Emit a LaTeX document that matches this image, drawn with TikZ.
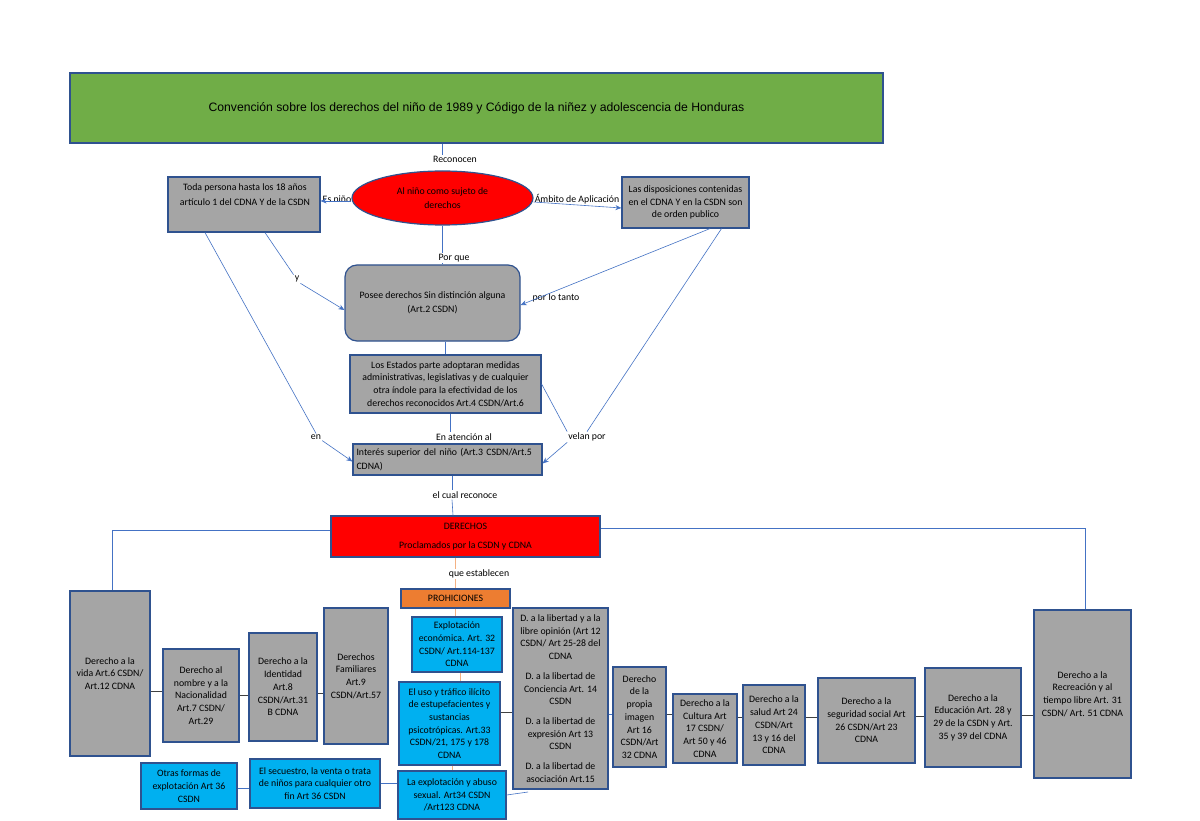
\documentclass[tikz,border=0pt]{standalone}
\usepackage{fontspec}
\setmainfont{Carlito}
\newfontfamily\arialf{Liberation Sans}
\usetikzlibrary{arrows.meta,shapes.geometric}
\definecolor{bordc}{HTML}{2F528F}
\definecolor{grayc}{HTML}{A5A5A5}
\definecolor{linec}{HTML}{4472C4}
\definecolor{darkc}{HTML}{404040}
\definecolor{orlc}{HTML}{F4B183}
\definecolor{greenc}{HTML}{70AD47}
\definecolor{cyanc}{HTML}{00B0F0}
\definecolor{orangec}{HTML}{ED7D31}
\definecolor{redc}{HTML}{FF0000}
\begin{document}
\begin{tikzpicture}[x=1pt,y=-1pt,
  box/.style={draw=bordc, line width=1.2pt, fill=grayc, inner sep=2pt, align=center, font=\fontsize{9.8}{12.7}\selectfont, text=black},
  bluebox/.style={box, fill=cyanc},
  lab/.style={font=\fontsize{9.8}{11}\selectfont, inner sep=1pt, align=center},
  conn/.style={draw=linec, line width=0.6pt},
  arr/.style={conn, -{Stealth[length=6pt,width=5pt]}},
  dk/.style={draw=darkc, line width=0.8pt},
  orline/.style={draw=orlc, line width=1pt}]
\path[fill=white,use as bounding box] (0,0) rectangle (1200,821);

% ---------- top ----------
\node[box, fill=greenc, minimum width=813pt, minimum height=70pt, font=\arialf\fontsize{12.2}{14}\selectfont] (title) at (476.5,108) {Convención sobre los derechos del niño de 1989 y Código de la niñez y adolescencia de Honduras};

\node[lab] (rec) at (455,159) {Reconocen};
\node[draw=bordc, line width=1.2pt, fill=redc, ellipse, minimum width=181pt, minimum height=54pt, inner sep=0pt, align=center, font=\fontsize{9.8}{14}\selectfont] (nino) at (442.5,198) {Al niño como sujeto de\\derechos};
\node[lab] (esn) at (337,199) {Es niño};
\node[lab] (amb) at (577,199) {Ámbito de Aplicación};

\node[box, minimum width=152pt, minimum height=55pt] (toda) at (244,204.5) {};
\node[lab, font=\fontsize{9.8}{15}\selectfont] (todat) at (245,195) {Toda persona hasta los 18 años\\artículo 1 del CDNA Y de la CSDN};

\node[box, minimum width=127pt, minimum height=51pt] (disp) at (685.5,202.5) {Las disposiciones contenidas\\en el CDNA Y en la CSDN son\\de orden publico};

\node[lab] (porque) at (454,258) {Por que};
\node[box, rounded corners=12pt, minimum width=175pt, minimum height=76pt, font=\fontsize{9.8}{14}\selectfont] (posee) at (432.5,303) {Posee derechos Sin distinción alguna\\(Art.2 CSDN)};
\node[lab] (ylab) at (297,279) {y};
\node[lab] (plt) at (556,298) {por lo tanto};

\node[box, minimum width=191pt, minimum height=58pt] (estados) at (445.5,384) {Los Estados parte adoptaran medidas\\administrativas, legislativas y de cualquier\\otra índole para la efectividad de los\\derechos reconocidos Art.4 CSDN/Art.6};

\node[lab] (en) at (316,437) {en};
\node[lab] (aten) at (464,437) {En atención al};
\node[lab] (velan) at (587,437) {velan por};

\node[box, minimum width=189pt, minimum height=31pt, text width=182pt, align=left, font=\fontsize{9.8}{14}\selectfont] (interes) at (447.5,459.5) {Interés superior del niño (Art.3 CSDN/Art.5\\CDNA)};

\node[lab] (cual) at (465,495) {el cual reconoce};

\node[box, fill=redc, minimum width=269pt, minimum height=41pt] (derechos) at (465.5,536.5) {DERECHOS\\[6pt]Proclamados por la CSDN y CDNA};

\node[lab] (que) at (479,574) {que establecen};
\node[box, fill=orangec, minimum width=109pt, minimum height=19pt, inner sep=1pt] (proh) at (455.5,598.5) {PROHICIONES};

% ---------- prohibiciones ----------
\node[bluebox, minimum width=90pt, minimum height=55pt] (expl) at (457,644.5) {Explotación\\económica. Art. 32\\CSDN/ Art.114-137\\CDNA};
\node[bluebox, minimum width=101pt, minimum height=83pt] (uso) at (449.5,723.5) {El uso y tráfico ilícito\\de estupefacientes y\\sustancias\\psicotrópicas. Art.33\\CSDN/21, 175 y 178\\CDNA};
\node[bluebox, minimum width=108pt, minimum height=48pt] (laexp) at (452,795) {La explotación y abuso\\sexual. Art34 CSDN\\/Art123 CDNA};
\node[bluebox, minimum width=130pt, minimum height=49pt] (secu) at (315,783.5) {El secuestro, la venta o trata\\de niños para cualquier otro\\fin Art 36 CSDN};
\node[bluebox, minimum width=96pt, minimum height=46pt] (otras) at (189,786) {Otras formas de\\explotación Art 36\\CSDN};

% ---------- derechos ----------
\node[box, minimum width=80pt, minimum height=165pt] (vida) at (110,673.5) {Derecho a la\\vida Art.6 CSDN/\\Art.12 CDNA};
\node[box, minimum width=76pt, minimum height=93pt] (nombre) at (201,695.5) {Derecho al\\nombre y a la\\Nacionalidad\\Art.7 CSDN/\\Art.29};
\node[box, minimum width=68pt, minimum height=108pt] (ident) at (283,687) {Derecho a la\\Identidad\\Art.8\\CSDN/Art.31\\B CDNA};
\node[box, minimum width=64pt, minimum height=136pt] (fam) at (356,676) {Derechos\\Familiares\\Art.9\\CSDN/Art.57};
\node[box, minimum width=95pt, minimum height=181pt] (lib) at (560.5,698.5) {D. a la libertad y a la\\libre opinión (Art 12\\CSDN/ Art 25-28 del\\CDNA\\[7pt]D. a la libertad de\\Conciencia Art. 14\\CSDN\\[7pt]D. a la libertad de\\expresión Art 13\\CSDN\\[7pt]D. a la libertad de\\asociación Art.15};
\node[box, minimum width=53pt, minimum height=100pt] (imagen) at (639.5,717) {Derecho\\de la\\propia\\imagen\\Art 16\\CSDN/Art\\32 CDNA};
\node[box, minimum width=64pt, minimum height=69pt] (cultura) at (705,728.5) {Derecho a la\\Cultura Art\\17 CSDN/\\Art 50 y 46\\CDNA};
\node[box, minimum width=62pt, minimum height=80pt] (salud) at (774,725) {Derecho a la\\salud Art 24\\CSDN/Art\\13 y 16 del\\CDNA};
\node[box, minimum width=97pt, minimum height=85pt] (segur) at (866.5,720.5) {Derecho a la\\seguridad social Art\\26 CSDN/Art 23\\CDNA};
\node[box, minimum width=96pt, minimum height=99pt] (educ) at (973,717.5) {Derecho a la\\Educación Art. 28 y\\29 de la CSDN y Art.\\35 y 39 del CDNA};
\node[box, minimum width=97pt, minimum height=168pt] (recre) at (1082.5,694) {Derecho a la\\Recreación y al\\tiempo libre Art. 31\\CSDN/ Art. 51 CDNA};

\coordinate (libend) at (528,792);

% ---------- helper points on box edges ----------
\path ([yshift=-17.5pt]vida.east) coordinate (p1)
      ([yshift=-6pt]ident.east) coordinate (p2)
      ([yshift=11.5pt]uso.east) coordinate (p3)
      ([yshift=-15.5pt]lib.east) coordinate (p4)
      ([yshift=3pt]imagen.east) coordinate (p5)
      ([yshift=11.5pt]cultura.east) coordinate (p6)
      ([yshift=8pt]salud.east) coordinate (p7)
      ([yshift=4.5pt]segur.east) coordinate (p8)
      ([yshift=2.5pt]educ.east) coordinate (p9)
      ([yshift=-2pt]otras.east) coordinate (p10)
      ([xshift=4.5pt]estados.south) coordinate (p11)
      ([xshift=4.5pt]interes.south) coordinate (p12)
      ([yshift=-3pt]nino.west) coordinate (p13);

% ---------- connectors (top) ----------
\draw[conn] (title.south -| nino.north) -- (rec.north -| nino.north);
\draw[arr] (p13) -- (toda.east |- p13);
\draw[arr] ([yshift=-4pt]nino.east) -- ([yshift=-5.5pt]disp.west);
\draw[conn] (nino.south) -- (porque.north -| nino.south);
\draw[conn] (porque.south -| nino.south) -- (posee.north -| nino.south);
\draw[conn] ([xshift=21pt]toda.south) -- (ylab.north west);
\draw[arr] (ylab.south east) -- ([yshift=-7pt]posee.west);
\draw[arr] ([xshift=24.5pt]disp.south) -- ([yshift=-2pt]posee.east);
\draw[conn] ([xshift=-39pt]toda.south) -- (en.north);
\draw[arr] (en.south east) -- ([yshift=-2pt]interes.west);
\draw[conn] ([xshift=36pt]disp.south) -- (velan.north);
\draw[conn] (estados.east) -- (velan.north west);
\draw[arr] (velan.south west) -- ([yshift=-4pt]interes.east);
\draw[conn] (posee.south -| estados.north) -- (estados.north);
\draw[conn] (p11) -- (p11 |- aten.north);
\draw[conn] (p12) -- (p12 |- cual.north);
\draw[conn] (p12 |- cual.south) -- ([xshift=-12.5pt]derechos.north);
\draw[conn] ([yshift=6.5pt]derechos.west) -| ([xshift=2pt]vida.north);
\draw[conn] ([yshift=8pt]derechos.east) -| ([xshift=2.5pt]recre.north);

% ---------- connectors (orange) ----------
\draw[orline] (derechos.south -| proh.north) -- (que.north -| proh.north);
\draw[orline] (que.south -| proh.north) -- (proh.north);
\draw[orline] (proh.south) -- (proh.south |- expl.north);
\draw[orline] ([xshift=3pt]expl.south) -- ([xshift=3pt]expl.south |- uso.north);
\draw[orline] ([xshift=2.5pt]uso.south) -- ([xshift=2.5pt]uso.south |- laexp.north);

% ---------- connectors (bottom) ----------
\draw[dk] (p1) -- (nombre.west |- p1);
\draw[dk] (nombre.east) -- (ident.west |- nombre.east);
\draw[dk] (p2) -- (fam.west |- p2);
\draw[dk] (p3) -- (lib.west |- p3);
\draw[conn] (p4) -- (imagen.west |- p4);
\draw[dk] (p5) -- (cultura.west |- p5);
\draw[dk] (p6) -- (salud.west |- p6);
\draw[dk] (p7) -- (segur.west |- p7);
\draw[dk] (p8) -- (educ.west |- p8);
\draw[dk] (p9) -- (recre.west |- p9);
\draw[conn] (p10) -- (secu.west |- p10);
\draw[conn] (secu.east) -- (laexp.west |- secu.east);
\draw[conn] (laexp.east) -- (libend);
\end{tikzpicture}
\end{document}
